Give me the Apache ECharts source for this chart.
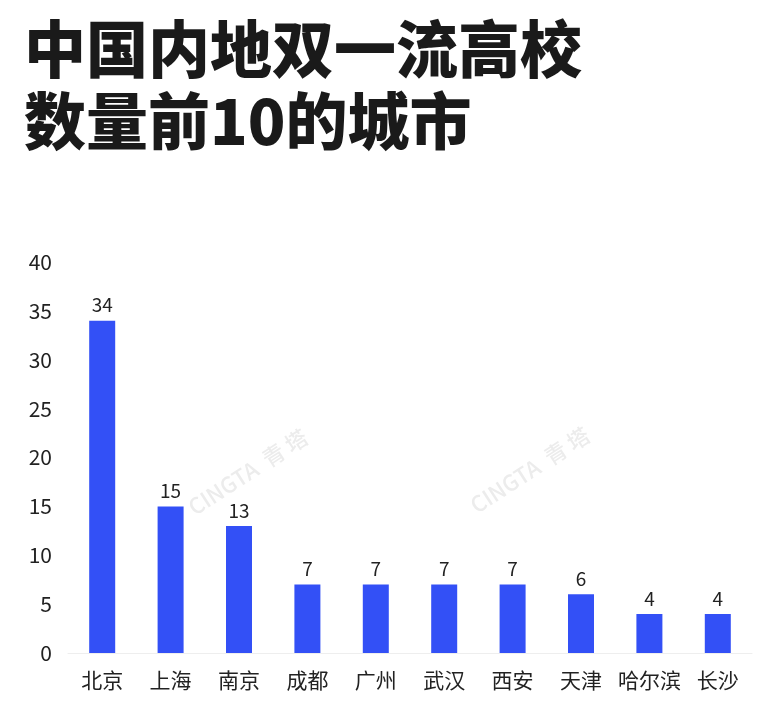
<!DOCTYPE html>
<html>
<head>
<meta charset="utf-8">
<script src="https://cdn.jsdelivr.net/npm/echarts@6/dist/echarts.min.js"></script>
<style>
  html, body { margin: 0; padding: 0; background: #fff; }
  #chart { width: 774px; height: 708px; }
</style>
</head>
<body>
<div id="chart"></div>
<script>
// 城市与双一流高校数量
const cities = ['北京', '上海', '南京', '成都', '广州', '武汉', '西安', '天津', '哈尔滨', '长沙']
const counts = [34, 15, 13, 7, 7, 7, 7, 6, 4, 4]
const titleLines = ['中国内地双一流高校', '数量前10的城市']

const font = '"Noto Sans CJK SC", "Noto Sans", sans-serif'
const chart = echarts.init(document.getElementById('chart'))

// 水印
const watermark = (x, y) => ({
  type: 'text',
  x: x,
  y: y,
  rotation: Math.PI * 33 / 180,
  z: 0,
  style: {
    text: 'CINGTA  青 塔',
    fill: '#ececec',
    font: '500 22px ' + font,
    align: 'center',
    verticalAlign: 'middle'
  }
})

chart.setOption({
  backgroundColor: '#fff',
  title: {
    text: titleLines.join('\n'),
    left: 19,
    top: 8,
    textStyle: {
      fontFamily: font,
      fontSize: 62,
      fontWeight: 900,
      color: '#1a1a1a',
      lineHeight: 72
    }
  },
  graphic: [watermark(248, 472), watermark(530, 470)],
  grid: {
    left: 68,
    right: 22,
    top: 262,
    bottom: 55
  },
  xAxis: {
    type: 'category',
    data: cities,
    axisLine: { lineStyle: { color: '#eeeeee', width: 1 } },
    axisTick: { show: false },
    axisLabel: {
      interval: 0,
      fontFamily: font,
      fontSize: 21,
      color: '#222',
      margin: 17
    }
  },
  yAxis: {
    type: 'value',
    min: 0,
    max: 40,
    interval: 5,
    axisLine: { show: false },
    axisTick: { show: false },
    splitLine: { show: false },
    axisLabel: {
      fontFamily: font,
      fontSize: 21,
      color: '#222',
      margin: 16
    }
  },
  series: [{
    type: 'bar',
    data: counts,
    barWidth: 26,
    z: 5,
    itemStyle: { color: '#3350f6' },
    label: {
      show: true,
      position: 'top',
      distance: 6,
      fontFamily: font,
      fontSize: 19,
      color: '#222'
    }
  }]
})
</script>
</body>
</html>
